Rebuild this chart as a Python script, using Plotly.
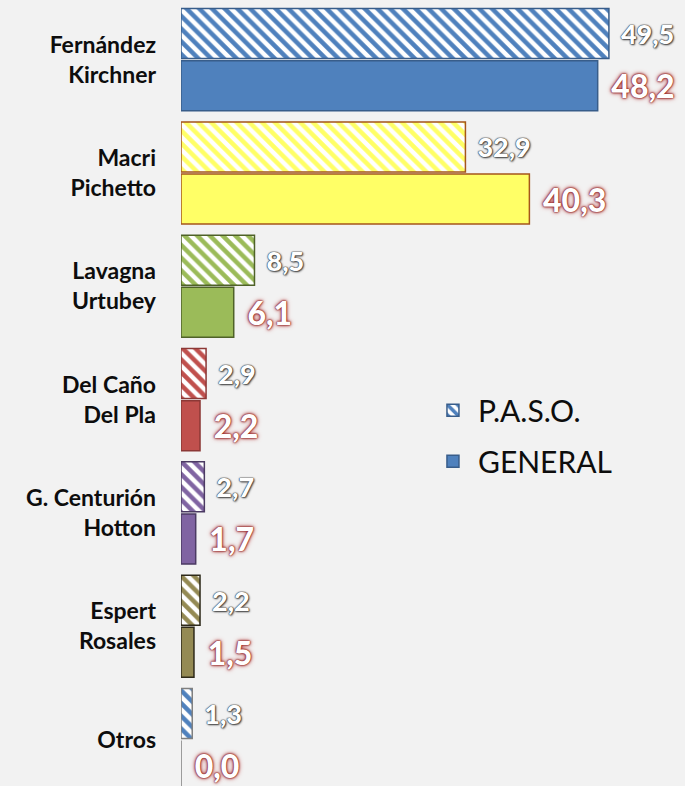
import plotly.graph_objects as go

categories = ["Fernández<br>Kirchner", "Macri<br>Pichetto", "Lavagna<br>Urtubey",
              "Del Caño<br>Del Pla", "G. Centurión<br>Hotton", "Espert<br>Rosales", "Otros"]
paso = [49.5, 32.9, 8.5, 2.9, 2.7, 2.2, 1.3]
general = [48.2, 40.3, 6.1, 2.2, 1.7, 1.5, 0.0]

fill_colors = ["#4F81BD", "#FFFF66", "#9BBB59", "#C0504D", "#8064A2", "#948A54", "#4F81BD"]
line_colors = ["#385D8A", "#A5561B", "#4F6228", "#8C3836", "#4B3A63", "#2E2A1A", "#7F7F7F"]


def fmt(v):
    return "\u2004" + f"{v:.1f}".replace(".", ",")


fig = go.Figure()
fig.add_trace(go.Bar(
    name="P.A.S.O.", y=categories, x=paso, orientation="h", legendgroup="a",
    marker=dict(color="white", line=dict(color=line_colors, width=1.5),
                pattern=dict(shape="\\", fgcolor=fill_colors, bgcolor="white",
                             size=9, solidity=0.5, fillmode="replace", fgopacity=1)),
    text=[fmt(v) for v in paso], textposition="outside", cliponaxis=False,
    constraintext="none",
    textfont=dict(family="Lato", size=27, color="white", weight=900,
                  shadow="0 0 1px #333, 0 0 1px #333, 1px 1px 2px #444, 0 0 2px #777"),
))
fig.add_trace(go.Bar(
    name="GENERAL", y=categories, x=general, orientation="h", legendgroup="b",
    marker=dict(color=fill_colors, line=dict(color=line_colors, width=1.5)),
    text=[fmt(v) for v in general], textposition="outside", cliponaxis=False,
    constraintext="none",
    textfont=dict(family="Lato", size=32, color="white", weight=900,
                  shadow="0 0 1px #8B2020, 0 0 2px #8B2020, 0 0 3px #A03030, 0 0 5px #C05050"),
))

fig.update_layout(
    width=685, height=786,
    paper_bgcolor="#F2F2F2", plot_bgcolor="#F2F2F2",
    margin=dict(l=181, r=0, t=3, b=0),
    barmode="group", bargap=0.08, bargroupgap=0.04,
    font=dict(family="Lato", color="#0D0D0D"),
    xaxis=dict(range=[0, 58.3], visible=False, showgrid=False, zeroline=False),
    yaxis=dict(range=[6.41, -0.5], showgrid=False, zeroline=False, showline=False,
               tickfont=dict(family="Lato", size=23, weight="bold", color="#0D0D0D"),
               ticklabelstandoff=24),
    legend=dict(x=0.49, y=0.513, xanchor="left", yanchor="top",
                font=dict(family="Lato", size=30, color="#0D0D0D"),
                bgcolor="rgba(0,0,0,0)", tracegroupgap=9, itemwidth=40),
    showlegend=True,
)

fig.write_html("out.html", config={"displayModeBar": False},
               post_script="document.body.style.margin='0';")
